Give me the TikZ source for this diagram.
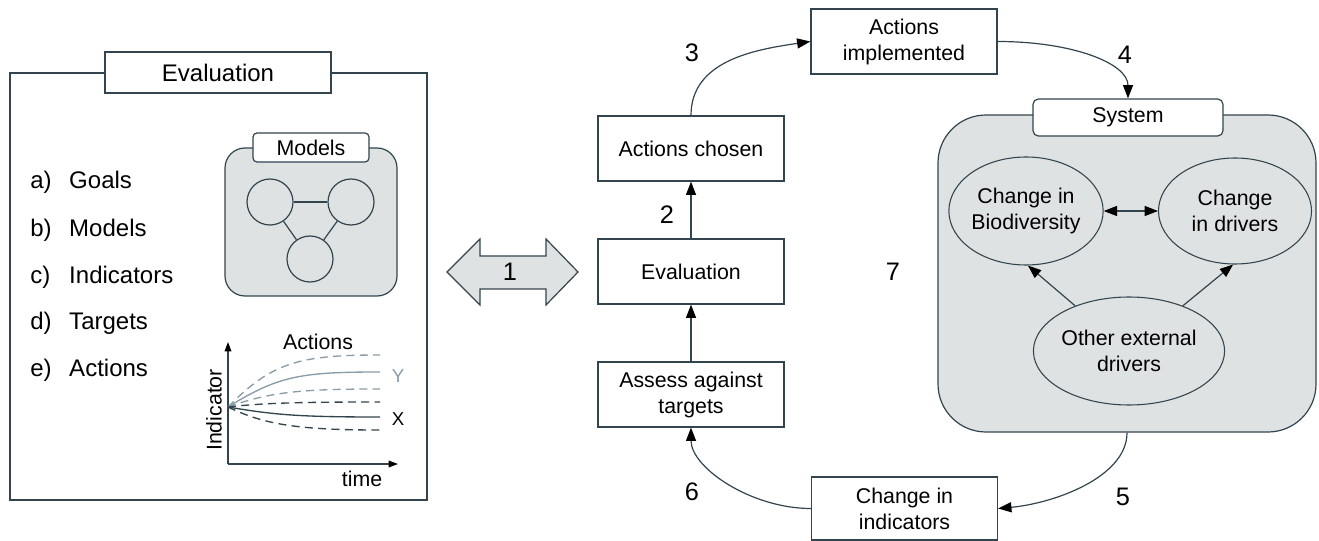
\documentclass[tikz,border=0pt]{standalone}
\usepackage{fontspec}
\setmainfont{Liberation Sans}
\usetikzlibrary{arrows.meta,shapes.geometric}
\definecolor{linecol}{RGB}{50,68,78}
\definecolor{panelgray}{RGB}{223,226,227}
\definecolor{ygray}{RGB}{135,155,168}

\begin{document}
\begin{tikzpicture}[x=0.75pt,y=0.75pt,yscale=-1,xscale=1,
  every node/.style={font=\fontsize{16}{19.5}\selectfont},
  box/.style={draw=linecol,line width=0.9pt,fill=white,minimum width=139.5pt,minimum height=48.75pt,align=center,inner sep=0pt},
  oval/.style={ellipse,draw=linecol,line width=0.8pt,fill=panelgray,align=center,inner sep=0pt,minimum height=81pt},
  arr/.style={draw=linecol,line width=0.9pt,-{Triangle[length=10pt,width=7.5pt,black]}},
  num/.style={font=\fontsize{19}{22}\selectfont},
  item/.style={anchor=west,inner sep=0pt,font=\fontsize{18}{21}\selectfont}
]
\useasboundingbox (0,0) rectangle (1319,541);

%Shape: Rectangle [id:left panel]
\draw [draw=linecol,line width=0.9pt] (10,73) rectangle (427,500) ;
% Text Node
\node (evalhead) [box,minimum width=169.5pt,minimum height=30.75pt,font=\fontsize{18}{21}\selectfont] at (218,72.5) {Evaluation};

% Text Node
\node (ia) [item] at (30,182) {\makebox[29.25pt][l]{a)}Goals};
% Text Node
\node (ib) [item] at (30,230) {\makebox[29.25pt][l]{b)}Models};
% Text Node
\node (ic) [item] at (30,277) {\makebox[29.25pt][l]{c)}Indicators};
% Text Node
\node (id) [item] at (30,323) {\makebox[29.25pt][l]{d)}Targets};
% Text Node
\node (ie) [item] at (30,370) {\makebox[29.25pt][l]{e)}Actions};

%Shape: Rounded Rect [id:models panel]
\draw [draw=linecol,line width=0.9pt,fill=panelgray,rounded corners=15pt] (225,148) rectangle (397,296) ;
\node (modhead) [box,minimum width=87pt,minimum height=21.75pt,rounded corners=3pt] at (311,147.5) {Models};
%Shape: Circle
\node (mc1) [circle,draw=linecol,line width=0.9pt,fill=panelgray,minimum size=34.5pt] at (270,202) {};
\node (mc2) [circle,draw=linecol,line width=0.9pt,fill=panelgray,minimum size=34.5pt] at (351,202) {};
\node (mc3) [circle,draw=linecol,line width=0.9pt,fill=panelgray,minimum size=34.5pt] at (310,259) {};
\draw [draw=linecol,line width=0.9pt] (mc1) -- (mc2) ;
\draw [draw=linecol,line width=0.9pt] (mc1) -- (mc3) ;
\draw [draw=linecol,line width=0.9pt] (mc2) -- (mc3) ;

%Graph axes
\coordinate (orig) at (228,464) ;
\coordinate (ytop) at (228,342) ;
\coordinate (xend) at (398,464) ;
\coordinate (start) at (228,407) ;
\draw [draw=linecol,line width=0.9pt,-{Triangle[length=7pt,width=5pt,black]}] (orig) -- (ytop) ;
\draw [draw=linecol,line width=0.9pt,-{Triangle[length=7pt,width=5pt,black]}] (orig) -- (xend) ;
%Curves
\draw [ygray,line width=1pt,dash pattern=on 6pt off 4pt] (start) .. controls (272,362) and (300,355) .. (380,355) ;
\draw [ygray,line width=1pt] (start) .. controls (278,376) and (300,372) .. (380,372) ;
\draw [ygray,line width=1pt,dash pattern=on 6pt off 4pt] (start) .. controls (270,392) and (300,389) .. (380,389) ;
\draw [linecol,line width=1pt,dash pattern=on 6pt off 4pt] (start) .. controls (262,403) and (300,402) .. (380,402) ;
\draw [linecol,line width=1pt] (start) .. controls (275,415) and (300,417) .. (380,417) ;
\draw [linecol,line width=1pt,dash pattern=on 6pt off 4pt] (start) .. controls (265,425) and (300,430) .. (380,430) ;

% Text Node
\node (gact) at (318,342) {Actions};
% Text Node
\node (gy) [text=ygray,font=\fontsize{14}{16}\selectfont] at (398,376) {Y};
% Text Node
\node (gx) [font=\fontsize{14}{16}\selectfont] at (398,419) {X};
% Text Node
\node (gtime) at (362,479) {time};
% Text Node
\node (gind) [rotate=90] at (214,410) {Indicator};

%Shape: Double Arrow
\draw [draw=linecol,line width=0.9pt,fill=panelgray] (447,272) -- (480,239) -- (480,256) -- (546,256) -- (546,239) -- (578,272) -- (546,305) -- (546,289) -- (480,289) -- (480,305) -- cycle ;
\node (n1) [num] at (510,272) {1};

% Center column
\node (chosen) [box] at (691,148.5) {Actions chosen};
\node (eval) [box] at (691,271.5) {Evaluation};
\node (assess) [box] at (691,394.5) {Assess against\\targets};
\node (impl) [box] at (904,41.5) {Actions\\implemented};
\node (chg) [box,minimum height=47.25pt] at (904.5,508.5) {Change in\\indicators};

%System
\node (sys) [draw=linecol,line width=0.9pt,fill=panelgray,rounded corners=36pt,minimum width=283.5pt,minimum height=237.75pt,inner sep=0pt] at (1127,273.5) {};
\node (syshead) [box,minimum width=142.5pt,minimum height=27.75pt,rounded corners=4pt] at (1128,117.5) {System};
\node (bio) [oval,minimum width=111pt] at (1026,211) {Change in\\Biodiversity};
\node (drv) [oval,minimum width=114.75pt,minimum height=79.5pt] at (1235,211) {Change\\in drivers};
\node (oth) [oval,minimum width=118.5pt] at (1129,351) {Other external\\drivers};
\draw [draw=linecol,line width=0.9pt,{Triangle[length=10pt,width=7.5pt,black]}-{Triangle[length=10pt,width=7.5pt,black]}] (bio.east) -- (drv.west) ;
\draw [arr] (oth.140) -- (bio.-88) ;
\draw [arr] (oth.40) -- (drv.-92) ;

%Connectors
\draw [arr] (eval.north) -- (chosen.south) ;
\draw [arr] (assess.north) -- (eval.south) ;
\draw [arr] (chosen.north) .. controls +(0,-55) and +(-55,8) .. (impl.west) ;
\draw [arr] (impl.east) .. controls +(75,0) and +(0,-35) .. (syshead.north) ;
\draw [arr] (sys.south) .. controls +(0,45) and +(55,-5) .. (chg.east) ;
\draw [arr] (chg.west) .. controls +(-60,0) and +(0,40) .. (assess.south) ;

% Text Node
\node (n2) [num] at (667,215) {2};
% Text Node
\node (n3) [num] at (692,53) {3};
% Text Node
\node (n4) [num] at (1125,55) {4};
% Text Node
\node (n5) [num] at (1123,497) {5};
% Text Node
\node (n6) [num] at (692,492) {6};
% Text Node
\node (n7) [num] at (893,272) {7};

\end{tikzpicture}
\end{document}
